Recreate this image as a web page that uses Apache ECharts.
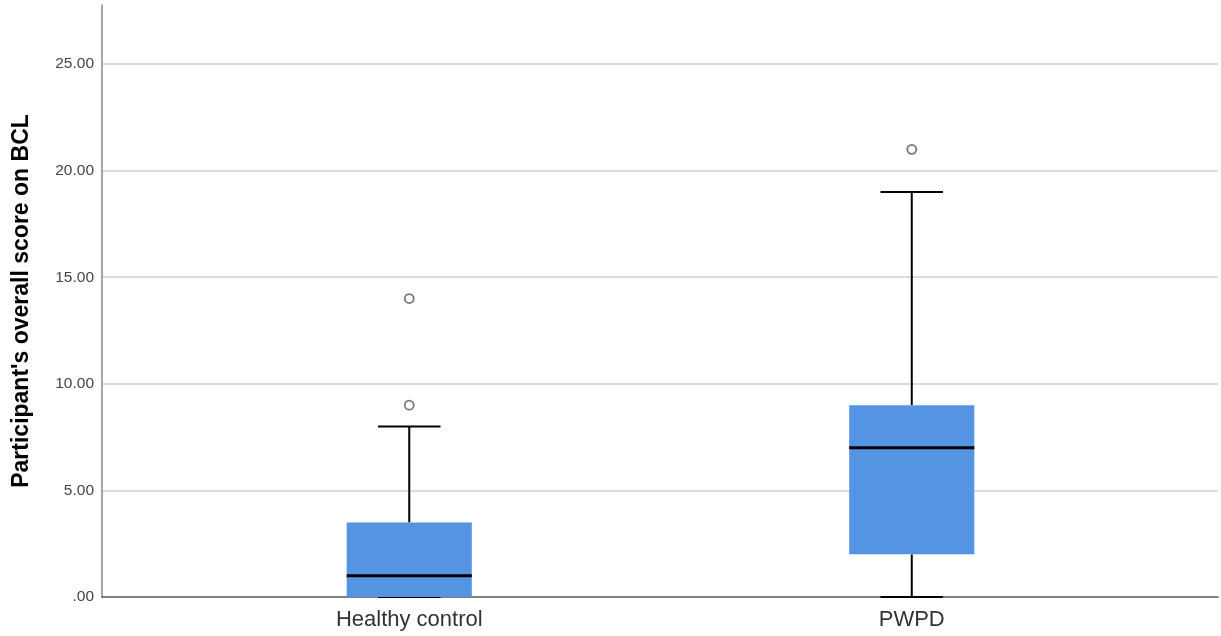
<!DOCTYPE html>
<html>
<head>
<meta charset="utf-8">
<script src="https://cdn.jsdelivr.net/npm/echarts@6/dist/echarts.min.js"></script>
<style>
  html, body { margin: 0; padding: 0; background: #fff; }
  #chart { width: 1221px; height: 636px; }
</style>
</head>
<body>
<div id="chart"></div>
<script>
// Groups on the horizontal axis
const categories = ['Healthy control', 'PWPD'];
// Box summaries per group: [lower whisker, Q1, median, Q3, upper whisker]
const boxStats = [
  [0, 0, 1, 3.5, 8],
  [0, 2, 7, 9, 19]
];
// Outlying observations: [group index, score]
const outliers = [
  [0, 9],
  [0, 14],
  [1, 21]
];
// Vertical axis range and tick step
const yMin = 0;
const yMax = 27.77;
const yStep = 5;
const yTitle = "Participant's overall score on BCL";

const FONT = '"Liberation Sans", Arial, sans-serif';
const BOX_COLOR = '#5594e3';

const chart = echarts.init(document.getElementById('chart'), null, { renderer: 'canvas' });

const boxData = boxStats.map((s, i) => [i].concat(s));

chart.setOption({
  animation: false,
  backgroundColor: '#ffffff',
  grid: [
    // frame: gridlines, tick labels and axis lines
    { left: 102, right: 3, top: 5, bottom: 39, containLabel: false },
    // plotting band for the two groups
    { left: 158, right: 58, top: 5, bottom: 39, containLabel: false }
  ],
  xAxis: [
    {
      gridIndex: 0, type: 'value', min: 0, max: 1,
      axisLine: { show: true, onZero: false, lineStyle: { color: '#555555', width: 1.5 } },
      axisTick: { show: false }, axisLabel: { show: false }, splitLine: { show: false }
    },
    {
      gridIndex: 1, type: 'category', data: categories, boundaryGap: true,
      axisLine: { show: false }, axisTick: { show: false }, splitLine: { show: false },
      axisLabel: { color: '#333333', fontSize: 22, fontFamily: FONT, margin: 12 }
    }
  ],
  yAxis: [
    {
      gridIndex: 0, type: 'value', min: yMin, max: yMax, interval: yStep,
      axisLine: { show: true, lineStyle: { color: '#8a8a8a', width: 1.5 } },
      axisTick: { show: false },
      axisLabel: {
        color: '#444444', fontSize: 15.5, fontFamily: FONT, margin: 8,
        padding: [5, 0, 0, 0],
        formatter: v => (v === 0 ? '.00' : v.toFixed(2)),
        showMaxLabel: false
      },
      splitLine: { show: true, showMaxLine: false, showMinLine: false, lineStyle: { color: '#cfcfcf', width: 1.5 } }
    },
    {
      gridIndex: 1, type: 'value', min: yMin, max: yMax, interval: yStep,
      axisLine: { show: false }, axisTick: { show: false },
      axisLabel: { show: false }, splitLine: { show: false }
    }
  ],
  graphic: [
    {
      type: 'text',
      x: 22, y: 301,
      rotation: Math.PI / 2,
      style: {
        text: yTitle,
        fill: '#000000',
        font: 'bold 23px ' + FONT,
        align: 'center',
        verticalAlign: 'middle'
      }
    }
  ],
  series: [
    {
      type: 'custom',
      xAxisIndex: 1, yAxisIndex: 1,
      data: boxData,
      encode: { x: 0, y: [1, 2, 3, 4, 5] },
      renderItem: function (params, api) {
        const x = api.value(0);
        const lo = api.coord([x, api.value(1)]);
        const q1 = api.coord([x, api.value(2)]);
        const med = api.coord([x, api.value(3)]);
        const q3 = api.coord([x, api.value(4)]);
        const hi = api.coord([x, api.value(5)]);
        const band = api.size([1, 0])[0];
        const half = band * 0.1245;
        const cap = half / 2;
        const cx = q1[0];
        const lineStyle = { stroke: '#000000', lineWidth: 2 };
        return {
          type: 'group',
          children: [
            {
              type: 'line',
              shape: { x1: cx, y1: q3[1], x2: cx, y2: hi[1] },
              style: lineStyle
            },
            {
              type: 'line',
              shape: { x1: cx - cap, y1: hi[1], x2: cx + cap, y2: hi[1] },
              style: lineStyle
            },
            {
              type: 'line',
              shape: { x1: cx, y1: q1[1], x2: cx, y2: lo[1] },
              style: lineStyle
            },
            {
              type: 'line',
              shape: { x1: cx - cap, y1: lo[1], x2: cx + cap, y2: lo[1] },
              style: lineStyle
            },
            {
              type: 'rect',
              shape: { x: cx - half, y: q3[1], width: half * 2, height: q1[1] - q3[1] },
              style: { fill: BOX_COLOR }
            },
            {
              type: 'line',
              shape: { x1: cx - half, y1: med[1], x2: cx + half, y2: med[1] },
              style: { stroke: '#000000', lineWidth: 3 }
            }
          ]
        };
      },
      z: 3
    },
    {
      type: 'scatter',
      xAxisIndex: 1, yAxisIndex: 1,
      data: outliers,
      symbol: 'circle',
      symbolSize: 9,
      itemStyle: { color: '#ffffff', borderColor: '#555555', borderWidth: 1.8 },
      z: 4
    }
  ]
});
</script>
</body>
</html>
